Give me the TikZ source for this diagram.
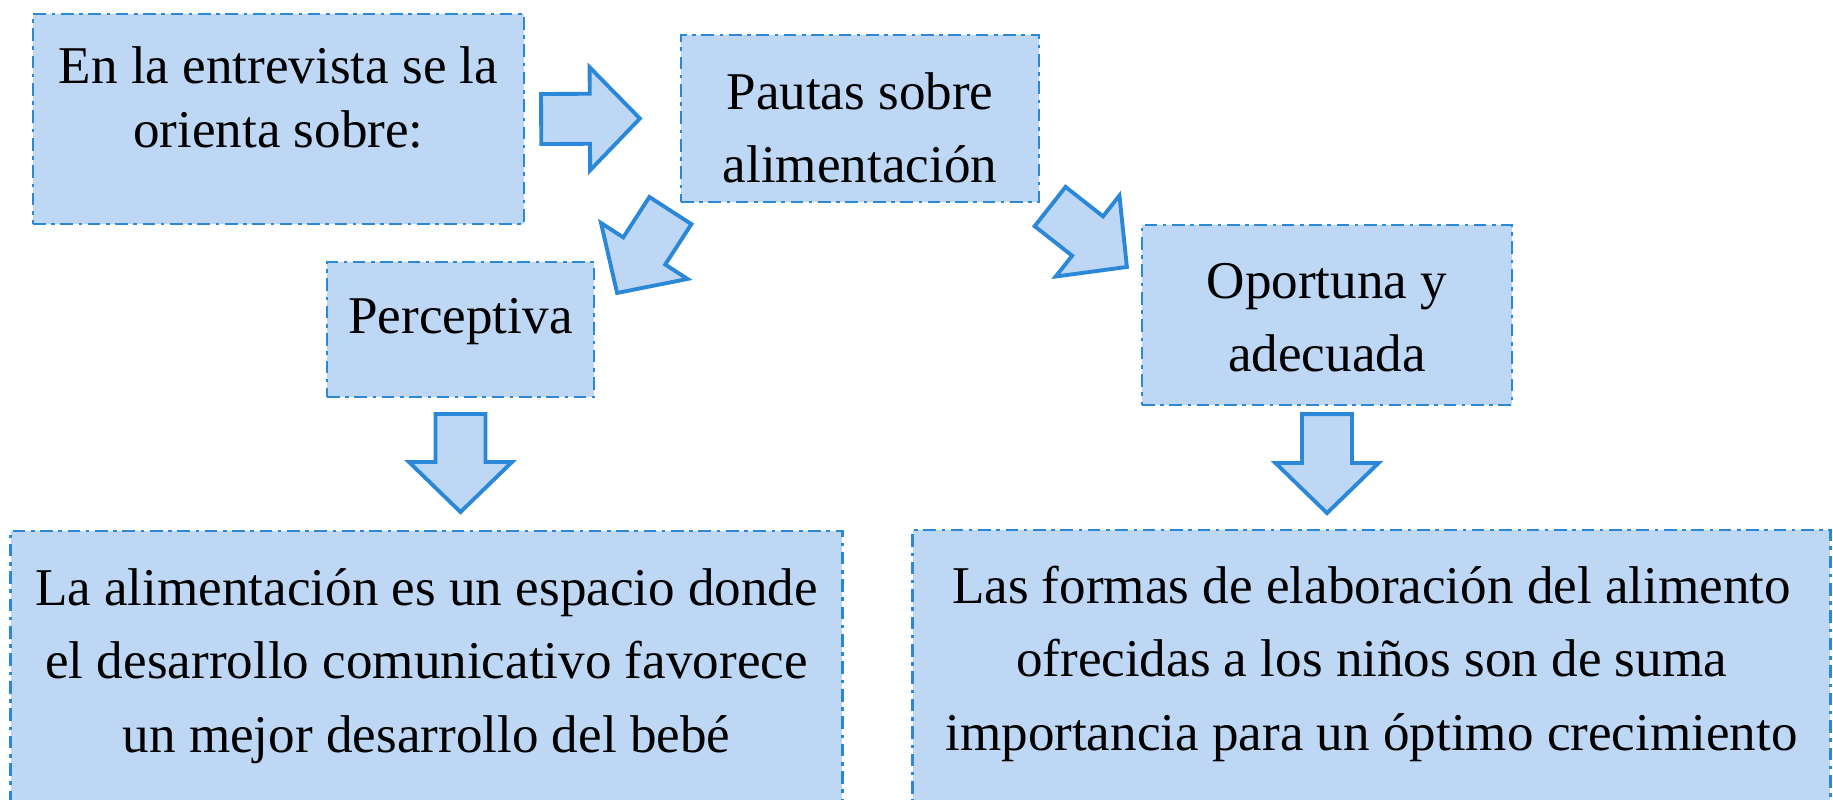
\documentclass[tikz,border=0pt]{standalone}
\usepackage{fontspec}
\setmainfont{Liberation Serif}
\usetikzlibrary{calc}
\definecolor{relleno}{RGB}{189,215,245}
\definecolor{borde}{RGB}{43,136,216}

% flecha de bloque: #1 cola, #2 punta
\newcommand{\bloqueflecha}[2]{%
  \coordinate (j) at ($(#2)!0.5cm!(#1)$);
  \draw[flecha] ($(#1)!0.25cm!90:(#2)$) -- ($(j)!0.25cm!90:(#2)$)
    -- ($(j)!0.515cm!90:(#2)$) -- (#2) -- ($(j)!0.515cm!-90:(#2)$)
    -- ($(j)!0.25cm!-90:(#2)$) -- ($(#1)!0.25cm!-90:(#2)$) -- cycle;
}

\begin{document}
\begin{tikzpicture}[
        x=0.01cm, y=-0.01cm,
        caja/.style={draw=borde, fill=relleno, line width=0.75pt,
            dash pattern=on 3.6pt off 1.6pt on 1pt off 1.6pt,
            inner sep=0pt, outer sep=0pt, anchor=base, align=flush center,
            font=\fontsize{15.1pt}{20.9pt}\selectfont},
        flecha/.style={draw=borde, fill=relleno, line width=1.1pt, line join=miter}
    ]
        \useasboundingbox (0,0) rectangle (1833,800);
        \clip (0,0) rectangle (1833,800);

        % Cajas
        \node[caja, text width=4.91cm, text height=0.69cm, text depth=1.41cm,
            font=\fontsize{15.1pt}{18.2pt}\selectfont] (orienta) at (278.5,83)
            {En la entrevista se la\\ orienta sobre:};
        \node[caja, text width=3.58cm, text height=0.74cm, text depth=0.93cm] (pautas) at (860,109)
            {Pautas sobre\\ alimentación};
        \node[caja, text width=2.67cm, text height=0.71cm, text depth=0.64cm] (percep) at (460.5,333)
            {Perceptiva};
        \node[caja, text width=3.70cm, text height=0.73cm, text depth=1.07cm] (oport) at (1327,298)
            {Oportuna y\\ adecuada};
        \node[caja, text width=8.31cm, text height=0.74cm, text depth=2.25cm] (bebe) at (426.5,605)
            {La alimentación es un espacio donde\\ el desarrollo comunicativo favorece\\ un mejor desarrollo del bebé};
        \node[caja, text width=9.17cm, text height=0.73cm, text depth=2.27cm] (crec) at (1371.5,603)
            {Las formas de elaboración del alimento\\ ofrecidas a los niños son de suma\\ importancia para un óptimo crecimiento};

        % Flechas
        \coordinate (a1i) at ($(orienta.east)+(17,0)$);
        \coordinate (a1f) at ($(pautas.west)+(-41,0)$);
        \coordinate (a2i) at ($(pautas.south west)+(-10.5,8.5)$);
        \coordinate (a2f) at ($(percep.north east)+(23,31)$);
        \coordinate (a3i) at ($(percep.south)+(0,17)$);
        \coordinate (a3f) at ($(percep.south)+(0,115)$);
        \coordinate (a4i) at ($(pautas.south east)+(11,4.5)$);
        \coordinate (a4f) at ($(oport.north west)+(-15,42)$);
        \coordinate (a5i) at ($(oport.south)+(0,9)$);
        \coordinate (a5f) at ($(oport.south)+(0,108)$);

        \bloqueflecha{a1i}{a1f}
        \bloqueflecha{a2i}{a2f}
        \bloqueflecha{a3i}{a3f}
        \bloqueflecha{a4i}{a4f}
        \bloqueflecha{a5i}{a5f}
    \end{tikzpicture}
\end{document}
